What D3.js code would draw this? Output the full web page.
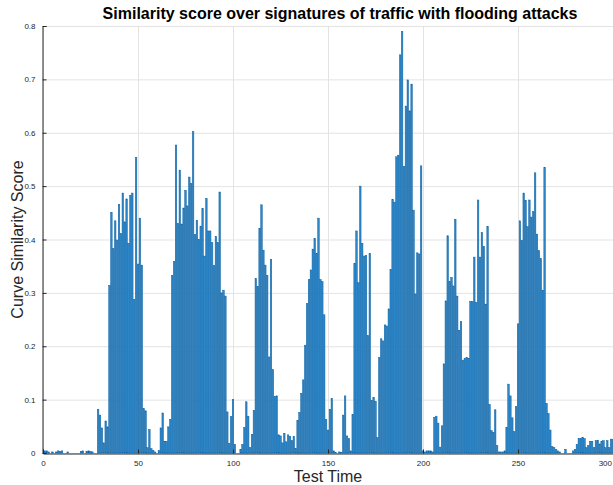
<!DOCTYPE html>
<html>
<head>
<meta charset="utf-8">
<script src="https://cdn.jsdelivr.net/npm/d3@7"></script>
<style>
  html, body { margin: 0; padding: 0; background: #fff; }
  svg { display: block; font-family: "Liberation Sans", Arial, Helvetica, sans-serif; }
</style>
</head>
<body>
<svg id="chart" width="613" height="485"></svg>
<script>
const chartTitle = "Similarity score over signatures of traffic with flooding attacks";
const xLabel = "Test Time";
const yLabel = "Curve Similarity Score";
const xTicks = [0, 50, 100, 150, 200, 250, 300];
const yTicks = [0, 0.1, 0.2, 0.3, 0.4, 0.5, 0.6, 0.7, 0.8];
const testTimes = d3.range(1, 301);
const scores = [
  0.004, 0.004, 0.002, 0, 0.002, 0, 0.002, 0.004, 0.003, 0.004,
  0, 0, 0.002, 0, 0, 0, 0, 0, 0, 0.003,
  0.004, 0, 0.003, 0.004, 0.003, 0.002, 0, 0, 0.082, 0.071,
  0.047, 0.019, 0.060, 0.049, 0.314, 0.451, 0.383, 0.435, 0.399, 0.466,
  0.411, 0.487, 0.433, 0.476, 0.393, 0.483, 0.487, 0.288, 0.554, 0.354,
  0.440, 0.352, 0.083, 0.079, 0.010, 0.044, 0.008, 0.005, 0.002, 0,
  0.005, 0.047, 0.075, 0.022, 0.022, 0.049, 0.063, 0.333, 0.359, 0.577,
  0.430, 0.530, 0.429, 0.459, 0.492, 0.463, 0.517, 0.505, 0.602, 0.409,
  0.436, 0.400, 0.425, 0.458, 0.369, 0.477, 0.416, 0.416, 0.394, 0.351,
  0.406, 0.394, 0.489, 0.300, 0.305, 0.294, 0.077, 0.018, 0.068, 0.100,
  0.016, 0, 0, 0.007, 0.016, 0.048, 0.096, 0.069, 0.010, 0.035,
  0.080, 0.327, 0.312, 0.421, 0.465, 0.380, 0.352, 0.333, 0.180, 0.363,
  0.156, 0.106, 0.107, 0.034, 0.032, 0.019, 0.037, 0.021, 0.034, 0.031,
  0.023, 0.031, 0.008, 0.061, 0.076, 0.112, 0.137, 0.202, 0.280, 0.325,
  0.343, 0.382, 0.402, 0.374, 0.440, 0.325, 0.321, 0.259, 0.063, 0.043,
  0.082, 0.102, 0.004, 0.001, 0, 0.002, 0.001, 0.071, 0.107, 0.032,
  0.027, 0.004, 0.072, 0.355, 0.416, 0.319, 0.500, 0.393, 0.369, 0.370,
  0.220, 0.374, 0.098, 0.104, 0.097, 0.029, 0.179, 0.214, 0.210, 0.240,
  0.238, 0.270, 0.344, 0.475, 0.470, 0.555, 0.558, 0.746, 0.790, 0.537,
  0.650, 0.699, 0.641, 0.691, 0.455, 0.298, 0.375, 0.373, 0.538, 0.004,
  0.002, 0.004, 0.004, 0.004, 0.002, 0.067, 0.069, 0.056, 0.011, 0.051,
  0.167, 0.285, 0.407, 0.321, 0.329, 0.313, 0.438, 0.294, 0.230, 0.246,
  0.174, 0.177, 0.179, 0.177, 0.284, 0.284, 0.367, 0.282, 0.474, 0.367,
  0.413, 0.387, 0.279, 0.424, 0.091, 0.042, 0.039, 0.081, 0.014, 0.002,
  0.002, 0.002, 0.004, 0.048, 0.129, 0.107, 0.066, 0.040, 0.087, 0.242,
  0.435, 0.398, 0.487, 0.473, 0.424, 0.474, 0.442, 0.452, 0.525, 0.410,
  0.379, 0.364, 0.305, 0.535, 0.093, 0.074, 0.043, 0.012, 0.010, 0.007,
  0.004, 0.002, 0, 0, 0.007, 0, 0, 0, 0.004, 0.007,
  0.016, 0.027, 0.027, 0.029, 0.027, 0.010, 0.014, 0.022, 0.022, 0.010,
  0.023, 0.024, 0.017, 0.022, 0.023, 0.010, 0.023, 0.010, 0.026, 0.025
];

const svg = d3.select("#chart");
const W = 613, H = 485;
const m = { left: 43, right: 0, top: 26, bottom: 32 };
const x = d3.scaleLinear().domain([0, 300]).range([m.left, W - m.right]);
const y = d3.scaleLinear().domain([0, 0.8]).range([H - m.bottom, m.top]);
const axisColor = "#262626";
const gridColor = "#e3e3e3";

const plot = svg.append("g");
// grid
plot.append("g").selectAll("line.gy").data(yTicks).join("line")
  .attr("x1", m.left).attr("x2", W - m.right)
  .attr("y1", d => y(d) + 0.5).attr("y2", d => y(d) + 0.5)
  .attr("stroke", gridColor).attr("stroke-width", 1);
plot.append("g").selectAll("line.gx").data(xTicks).join("line")
  .attr("y1", m.top).attr("y2", H - m.bottom)
  .attr("x1", d => x(d) + 0.5).attr("x2", d => x(d) + 0.5)
  .attr("stroke", gridColor).attr("stroke-width", 1);

// bars
const bw = x(0.8) - x(0);
plot.append("g").selectAll("rect").data(testTimes).join("rect")
  .attr("x", (d) => x(d) - bw / 2)
  .attr("width", bw)
  .attr("y", (d, i) => y(scores[i]))
  .attr("height", (d, i) => y(0) - y(scores[i]))
  .attr("fill", "#2f86c6")
  .attr("stroke", "#0b62a6")
  .attr("stroke-width", 0.5);

// axes
const xAxis = d3.axisBottom(x).tickValues(xTicks).tickSize(-4).tickPadding(7).tickFormat(d3.format("d"));
const yAxis = d3.axisLeft(y).tickValues(yTicks).tickSize(-4).tickPadding(7).tickFormat(d => d === 0 ? "0" : d3.format(".1f")(d));
const gx = svg.append("g").attr("transform", `translate(0,${H - m.bottom + 0.5})`).call(xAxis);
const gy = svg.append("g").attr("transform", `translate(${m.left - 0.5},0)`).call(yAxis);
[gx, gy].forEach(g => {
  g.select(".domain").attr("stroke", axisColor);
  g.selectAll(".tick line").attr("stroke", axisColor);
  g.selectAll(".tick text").attr("fill", axisColor).style("font-size", "8px").style("font-family", "'Liberation Sans', Arial, sans-serif");
});
// keep the last x tick label inside the picture
gx.selectAll(".tick text").filter(d => d === 300).attr("text-anchor", "end").attr("dx", "-1.5");

// title & labels
svg.append("text").attr("x", 340).attr("y", 19)
  .attr("text-anchor", "middle").attr("font-weight", "bold").attr("font-size", "16px")
  .attr("fill", "#000").text(chartTitle);
svg.append("text").attr("x", (m.left + W) / 2).attr("y", 482)
  .attr("text-anchor", "middle").attr("font-size", "16px").attr("fill", axisColor).text(xLabel);
svg.append("text").attr("transform", `translate(23,${(m.top + H - m.bottom) / 2}) rotate(-90)`)
  .attr("text-anchor", "middle").attr("font-size", "16px").attr("fill", axisColor).text(yLabel);
</script>
</body>
</html>
